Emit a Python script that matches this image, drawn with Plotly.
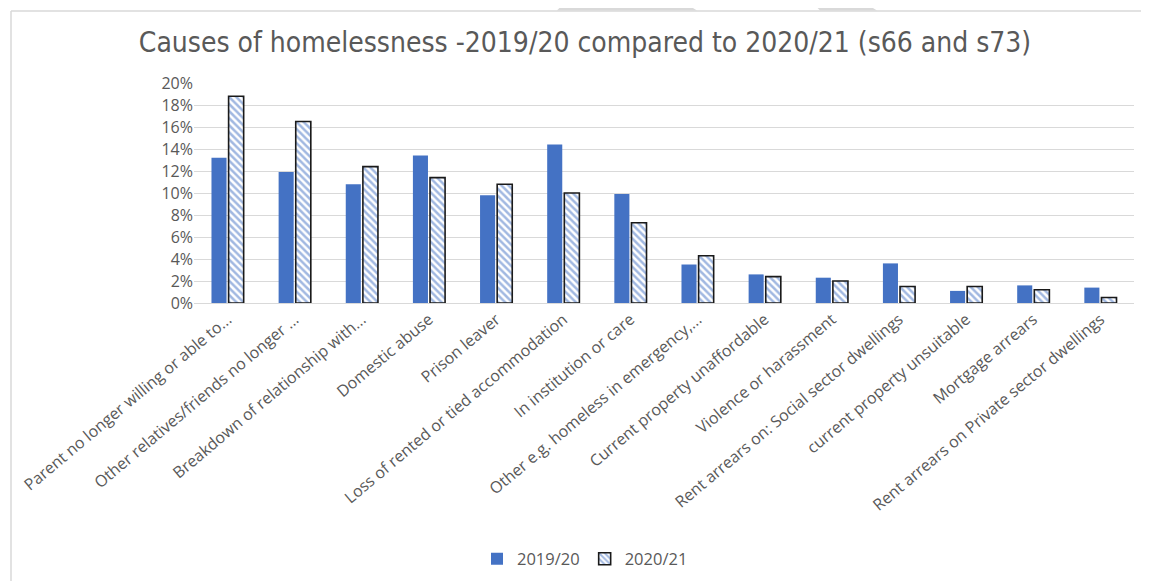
import plotly.graph_objects as go

categories = [
    "Parent no longer willing or able to...",
    "Other relatives/friends no longer ...",
    "Breakdown of relationship with...",
    "Domestic abuse",
    "Prison leaver",
    "Loss of rented or tied accommodation",
    "In institution or care",
    "Other e.g. homeless in emergency,...",
    "Current property unaffordable",
    "Violence or harassment",
    "Rent arrears on: Social sector dwellings",
    "current property unsuitable",
    "Mortgage arrears",
    "Rent arrears on Private sector dwellings",
]
values_2019_20 = [0.132, 0.119, 0.108, 0.134, 0.098, 0.144, 0.099, 0.035, 0.026, 0.023, 0.036, 0.011, 0.016, 0.014]
values_2020_21 = [0.188, 0.165, 0.124, 0.114, 0.108, 0.100, 0.073, 0.043, 0.024, 0.020, 0.015, 0.015, 0.012, 0.005]
series_names = ["2019/20", "2020/21"]
y_ticks = [0, 0.02, 0.04, 0.06, 0.08, 0.10, 0.12, 0.14, 0.16, 0.18, 0.20]

# page body has an 8px margin: figure is drawn from (8, 8)
OFF = 8
WIN_W, WIN_H = 1149, 581
W, H = WIN_W - OFF, WIN_H - OFF
L, R, T, B = 194, 1134, 83, 303  # plot area in window pixels


def px(x):
    return (x - L) / (R - L)


def py(y):
    return (B - y) / (B - T)


BLUE = "#4472C4"
GREY_TXT = "#595959"
TICK_FONT = dict(family="Open Sans, Noto Sans, sans-serif", size=16, color=GREY_TXT)

fig = go.Figure()
fig.add_trace(go.Bar(
    x=categories, y=values_2019_20, name=series_names[0],
    marker=dict(color=BLUE, line=dict(width=0)),
))
fig.add_trace(go.Bar(
    x=categories, y=values_2020_21, name=series_names[1],
    marker=dict(
        color="white",
        line=dict(color="#1a1a1a", width=1.6),
        pattern=dict(shape="\\", fgcolor=BLUE, bgcolor="white", size=5, solidity=0.5),
    ),
))

shapes = []
shapes.append(dict(type="line", xref="paper", yref="paper",
                   x0=px(11), x1=px(11), y0=py(11), y1=py(590),
                   line=dict(color="#d9d9d9", width=1.5)))
shapes.append(dict(type="line", xref="paper", yref="paper",
                   x0=px(11), x1=px(1160), y0=py(11), y1=py(11),
                   line=dict(color="#d9d9d9", width=1.5)))


def poly(points):
    d = "M " + " L ".join(f"{px(a):.5f},{py(b):.5f}" for a, b in points) + " Z"
    return dict(type="path", xref="paper", yref="paper", path=d,
                fillcolor="#d9d9d9", line=dict(width=0), layer="below")


shapes.append(poly([(567, 0), (680, 0), (697, 10.5), (557, 10.5)]))
shapes.append(poly([(810, 0), (860, 0), (877, 10.5), (820, 10.5)]))

fig.update_layout(
    width=W, height=H,
    margin=dict(l=L - OFF, r=WIN_W - R, t=T - OFF, b=WIN_H - B, autoexpand=False),
    paper_bgcolor="white", plot_bgcolor="white",
    barmode="group", bargap=0.49, bargroupgap=0.12,
    title=dict(
        text="Causes of homelessness -2019/20 compared to 2020/21 (s66 and s73)",
        x=(585 - OFF) / W, xref="container", xanchor="center",
        y=1 - (42 - OFF) / H, yref="container", yanchor="middle",
        font=dict(family="DejaVu Sans Condensed, sans-serif", size=28, color=GREY_TXT),
    ),
    xaxis=dict(
        tickangle=-40, tickfont=TICK_FONT, showgrid=False, showline=True,
        linecolor="#d9d9d9", linewidth=1, ticks="", automargin=False,
    ),
    yaxis=dict(
        range=[0, 0.2], tickvals=y_ticks, tickformat=".0%", tickfont=TICK_FONT,
        showgrid=True, gridcolor="#d9d9d9", gridwidth=1, zeroline=False,
        showline=False, ticks="", ticklen=0, automargin=False,
    ),
    legend=dict(
        orientation="h", x=px(585), xanchor="center", y=py(559), yanchor="middle",
        font=dict(family="Open Sans, Noto Sans, sans-serif", size=16.5, color=GREY_TXT),
        itemwidth=30, traceorder="normal",
    ),
    shapes=shapes,
)

fig.write_html("out.html")
